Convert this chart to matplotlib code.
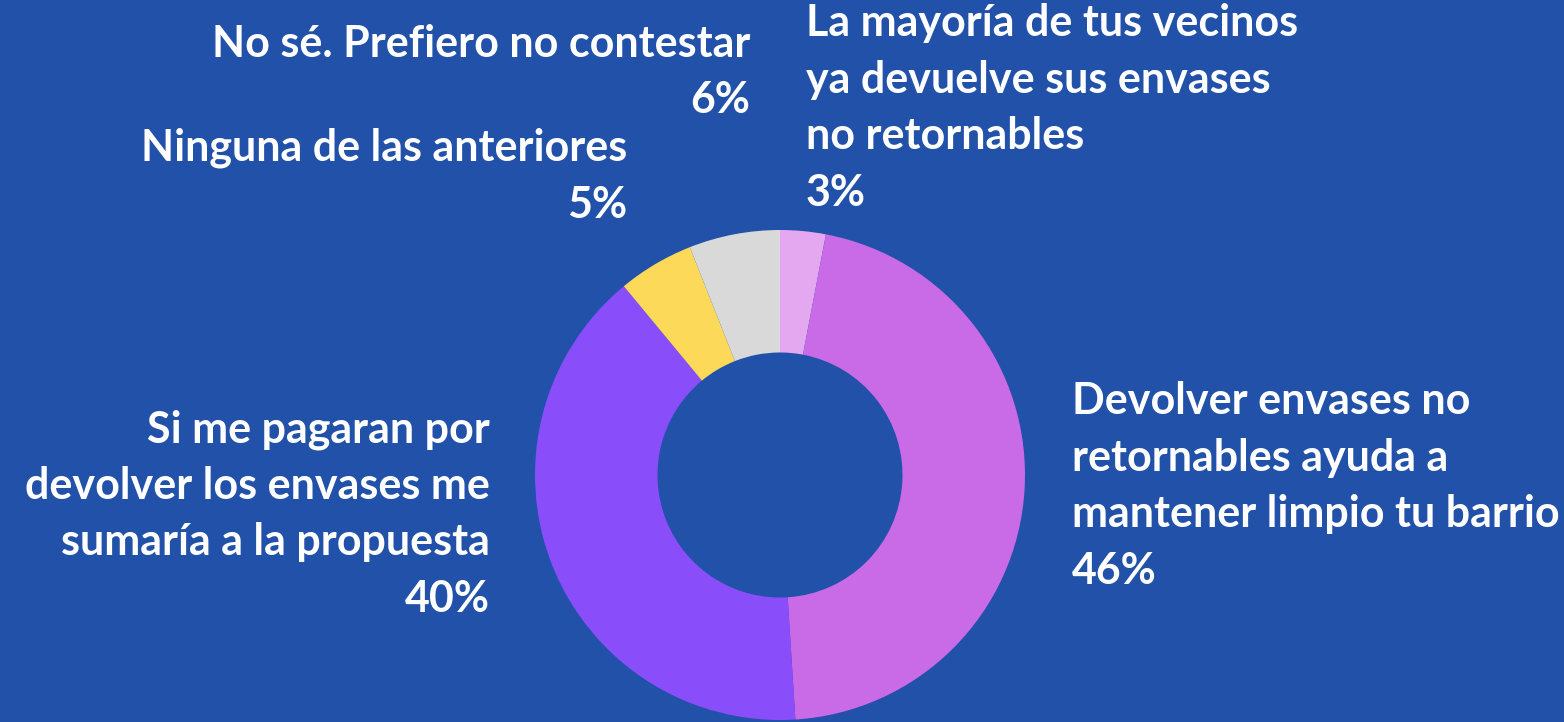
import matplotlib.pyplot as plt

labels = [
    "La mayoría de tus vecinos\nya devuelve sus envases\nno retornables",
    "Devolver envases no\nretornables ayuda a\nmantener limpio tu barrio",
    "Si me pagaran por\ndevolver los envases me\nsumaría a la propuesta",
    "Ninguna de las anteriores",
    "No sé. Prefiero no contestar",
]
values = [3, 46, 40, 5, 6]
colors = ["#E4A8F0", "#C96AE6", "#8A4DFA", "#FDD95A", "#D9D9D9"]
bg = "#2151A8"

W, H = 1564, 722
fig = plt.figure(figsize=(W / 100, H / 100), dpi=100, facecolor=bg)
ax = fig.add_axes([0, 0, 1, 1])
ax.set_facecolor(bg)

cx, cy, r = 780, H - 475, 245
ax.pie(values, colors=colors, startangle=90, counterclock=False,
       center=(cx, cy), radius=r, frame=True,
       wedgeprops=dict(width=r * 0.5, linewidth=0))
ax.set_xlim(0, W)
ax.set_ylim(0, H)
ax.set_aspect("equal")
ax.axis("off")

font = dict(color="white", fontsize=31, fontweight="bold", family="Lato",
            linespacing=1.5)

# (x, y of block center in image px, ha)
pos = [
    (806, 108, "left"),
    (1072, 486, "left"),
    (490, 514, "right"),
    (627, 176, "right"),
    (750, 72, "right"),
]
for lab, v, (x, y, ha) in zip(labels, values, pos):
    ax.text(x, H - y, f"{lab}\n{v}%", ha=ha, va="center", multialignment=ha, **font)

fig.savefig("out.png", dpi=100, facecolor=bg)
